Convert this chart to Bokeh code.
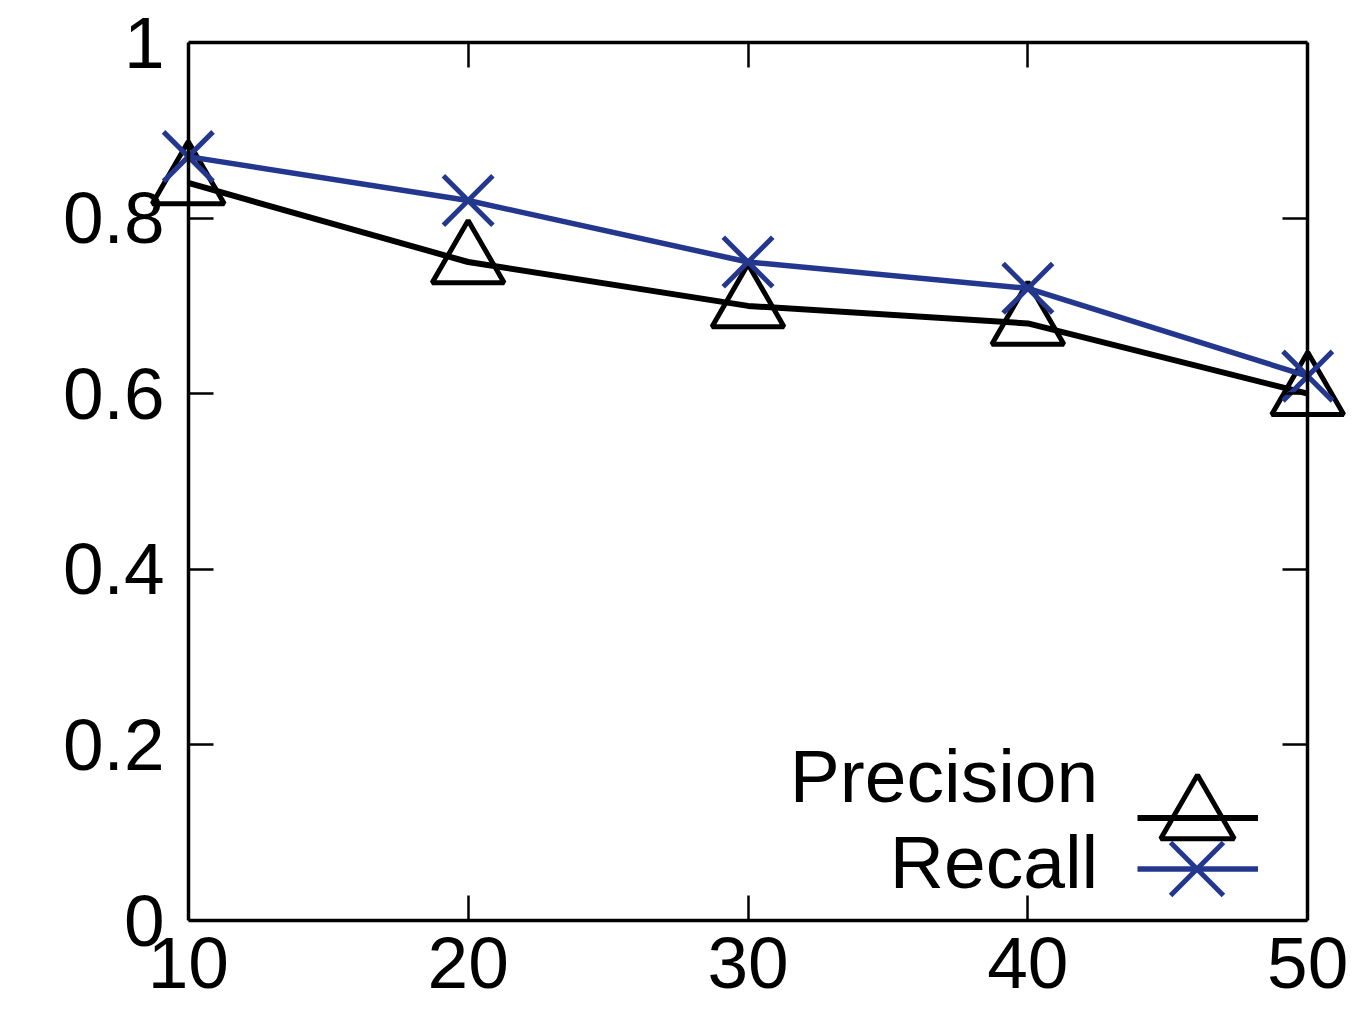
from bokeh.plotting import figure
from bokeh.models import (Range1d, LinearAxis, FixedTicker, Legend, LegendItem,
                          Label, CustomJSTickFormatter)
from bokeh.embed import file_html
from bokeh.resources import INLINE

# ---- data ----
x_vals = [10, 20, 30, 40, 50]
precision = [0.84, 0.75, 0.70, 0.68, 0.60]
recall = [0.87, 0.82, 0.75, 0.72, 0.62]
x_ticks = [10, 20, 30, 40, 50]
y_ticks = [0, 0.2, 0.4, 0.6, 0.8, 1.0]
y_tick_labels = ["0", "0.2", "0.4", "0.6", "0.8", "1"]
series_names = ["Precision", "Recall"]

FONT = "Liberation Sans"
BLACK = "#000000"
BLUE = "#24378f"

X0, X1 = 10, 50
XPAD = 1.6                      # room so edge markers are not clipped
PX_PER_X = 1119 / (X1 - X0)
PAD_PX = XPAD * PX_PER_X

p = figure(frame_width=int(round(1119 + 2 * PAD_PX)), frame_height=878,
           x_range=Range1d(X0 - XPAD, X1 + XPAD), y_range=Range1d(0, 1),
           output_backend="svg", toolbar_location=None,
           x_axis_location=None, y_axis_location=None,
           min_border_left=int(round(188 - PAD_PX)), min_border_right=2,
           min_border_top=42, min_border_bottom=92)
p.xgrid.visible = False
p.ygrid.visible = False
p.outline_line_color = None
p.background_fill_color = "white"
p.border_fill_color = "white"


def style_axis(ax, ticks, labelled=True, standoff=0):
    ax.ticker = FixedTicker(ticks=ticks)
    ax.axis_line_color = BLACK
    ax.axis_line_width = 3.5
    ax.major_tick_line_color = BLACK
    ax.major_tick_line_width = 2.5
    ax.major_tick_in = 25
    ax.major_tick_out = 0
    ax.minor_tick_line_color = None
    ax.major_label_text_font = FONT
    ax.major_label_text_color = BLACK
    ax.major_label_standoff = standoff
    if labelled:
        ax.major_label_text_font_size = "73px"
    else:
        ax.major_label_text_font_size = "1px"
        ax.formatter = CustomJSTickFormatter(code="return ''")


bottom_ax = LinearAxis(bounds=(X0, X1))
style_axis(bottom_ax, x_ticks, True, 17)
bottom_ax.major_label_text_line_height = 0.9
bottom_ax.major_label_overrides = {t: str(t) for t in x_ticks}
p.add_layout(bottom_ax, "below")

# left: line + ticks at x = 10 (inside the padded frame) ...
left_ax = LinearAxis(fixed_location=X0)
style_axis(left_ax, y_ticks, False)
p.add_layout(left_ax, "left")
# ... and its labels from an unclipped side axis, pulled in towards x = 10
left_lbl = LinearAxis()
style_axis(left_lbl, y_ticks, True, int(round(24 - PAD_PX)))
left_lbl.axis_line_color = None
left_lbl.major_tick_line_color = None
left_lbl.major_tick_in = 0
left_lbl.major_label_overrides = {t: s for t, s in zip(y_ticks, y_tick_labels)}
p.add_layout(left_lbl, "left")

top_ax = LinearAxis(bounds=(X0, X1))
style_axis(top_ax, x_ticks, False)
p.add_layout(top_ax, "above")

right_ax = LinearAxis(fixed_location=X1)
style_axis(right_ax, y_ticks, False)
p.add_layout(right_ax, "right")

# ---- series ----
prec_line = p.line(x_vals, precision, line_color=BLACK, line_width=6)
prec_mark = p.scatter(x_vals, precision, marker="triangle", size=72,
                      fill_color=None, line_color=BLACK, line_width=5)
rec_line = p.line(x_vals, recall, line_color=BLUE, line_width=5.5)
rec_mark = p.scatter(x_vals, recall, marker="x", size=70,
                     line_color=BLUE, line_width=5)


def make_legend(items, glyph_w, glyph_h, loc):
    lg = Legend(items=items, location=(loc[0] + PAD_PX, loc[1]), orientation="vertical",
                glyph_width=glyph_w, glyph_height=glyph_h,
                label_width=0, label_height=0, label_standoff=0,
                label_text_font_size="1px", label_text_alpha=0,
                padding=0, margin=0, spacing=0,
                border_line_color=None, background_fill_alpha=0)
    p.add_layout(lg, "center")
    return lg


# legend sample lines
make_legend([LegendItem(label=" ", renderers=[prec_line]),
             LegendItem(label=" ", renderers=[rec_line])],
            121, 51, (949, 26.5))
# legend sample markers
make_legend([LegendItem(label=" ", renderers=[prec_mark])], 184, 184, (917, 11))
make_legend([LegendItem(label=" ", renderers=[rec_mark])], 187, 187, (915.5, -41.5))

# legend texts (to the left of the samples)
p.add_layout(Label(x=910 + PAD_PX, y=145, x_units="screen", y_units="screen",
                   text=series_names[0], text_align="right", text_baseline="alphabetic",
                   text_font=FONT, text_font_size="75px", text_color=BLACK))
p.add_layout(Label(x=910 + PAD_PX, y=59, x_units="screen", y_units="screen",
                   text=series_names[1], text_align="right", text_baseline="alphabetic",
                   text_font=FONT, text_font_size="75px", text_color=BLACK))

open("out.html", "w").write(file_html(p, INLINE))
